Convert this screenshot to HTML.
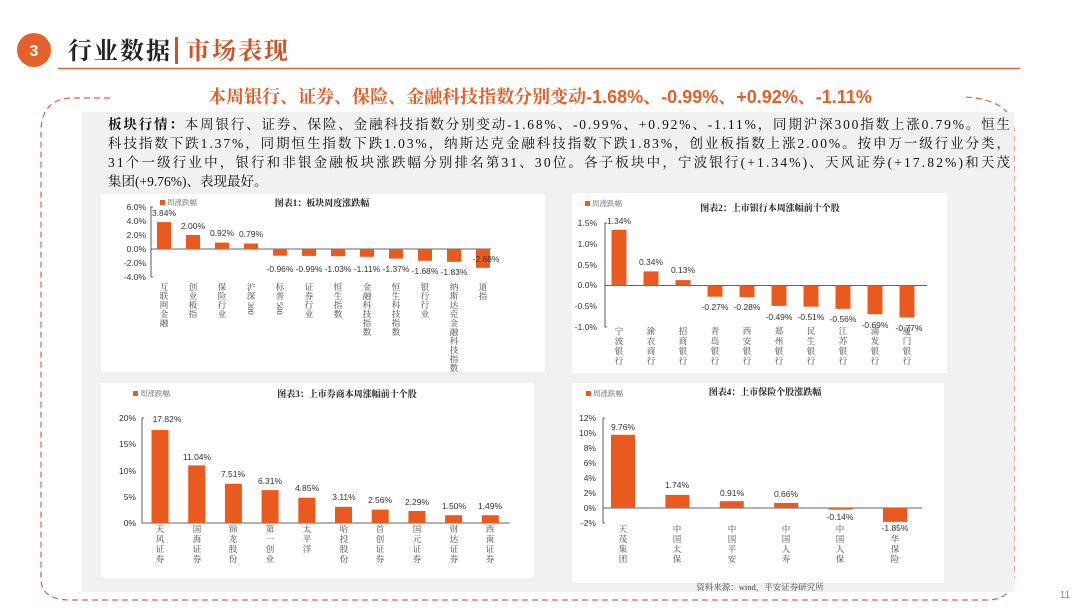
<!DOCTYPE html>
<html><head><meta charset="utf-8"><style>
html,body{margin:0;padding:0;background:#fff;}
svg{display:block;font-family:"Liberation Sans","Noto Sans CJK SC",sans-serif;}
.s{font-family:"Liberation Serif","Noto Serif CJK SC",serif;}
.t{font-size:8.5px;fill:#333;}
.c{font-size:8.5px;fill:#444;font-family:"Liberation Serif","Noto Serif CJK SC",serif;}
.ttl{font-size:9px;font-weight:bold;fill:#222;font-family:"Liberation Serif","Noto Serif CJK SC",serif;}
.lg{font-size:7.5px;fill:#666;font-family:"Liberation Serif","Noto Serif CJK SC",serif;}
.b{fill:#ea5a1e;}
.ax{stroke:#333;stroke-width:0.8;fill:none;}
</style></head><body>
<svg width="1080" height="608" viewBox="0 0 1080 608" xmlns="http://www.w3.org/2000/svg">
<rect width="1080" height="608" fill="#fff"/>
<!-- header -->
<circle cx="34" cy="50" r="17" fill="#e5612c"/>
<text x="34" y="56" font-size="16" font-weight="bold" fill="#fff" text-anchor="middle">3</text>
<text x="68" y="59" class="s" font-size="24" font-weight="bold" fill="#222" letter-spacing="2">行业数据</text>
<rect x="175" y="37" width="3" height="27" fill="#c9552a"/>
<text x="186" y="59" class="s" font-size="24" font-weight="bold" fill="#c9552a" letter-spacing="2">市场表现</text>
<line x1="58" y1="68.5" x2="1020" y2="68.5" stroke="#d9663a" stroke-width="1.5"/>
<!-- dashed frame -->
<path d="M110 98 L70 98 Q42 100 41 130 L41 580 Q42 600 70 600 L990 600 Q1013 598 1014 575 L1014 130 Q1012 100 965 97" fill="none" stroke="#d9663a" stroke-width="1.2" stroke-dasharray="6,4"/>
<rect x="82" y="112" width="932" height="480" fill="#f1f1f1"/>
<text x="540" y="103" text-anchor="middle" font-size="18" font-weight="bold" fill="#e0602a" class="s">本周银行、证券、保险、金融科技指数分别变动<tspan font-family="Liberation Sans">-1.68%</tspan>、<tspan font-family="Liberation Sans">-0.99%</tspan>、<tspan font-family="Liberation Sans">+0.92%</tspan>、<tspan font-family="Liberation Sans">-1.11%</tspan></text>
<g class="s" font-size="13.5" fill="#111">
<text x="108" y="129" textLength="902" lengthAdjust="spacing"><tspan font-weight="bold">板块行情：</tspan>本周银行、证券、保险、金融科技指数分别变动-1.68%、-0.99%、+0.92%、-1.11%，同期沪深300指数上涨0.79%。恒生</text>
<text x="108" y="148" textLength="902" lengthAdjust="spacing">科技指数下跌1.37%，同期恒生指数下跌1.03%，纳斯达克金融科技指数下跌1.83%，创业板指数上涨2.00%。按申万一级行业分类，</text>
<text x="108" y="167" textLength="902" lengthAdjust="spacing">31个一级行业中，银行和非银金融板块涨跌幅分别排名第31、30位。各子板块中，宁波银行(+1.34%)、天风证券(+17.82%)和天茂</text>
<text x="108" y="186">集团(+9.76%)、表现最好。</text>
</g>
<!-- panels -->
<rect x="101" y="194" width="444" height="178" fill="#fff"/>
<rect x="572" y="193" width="375" height="180" fill="#fff"/>
<rect x="101" y="383" width="433" height="195" fill="#fff"/>
<rect x="572" y="383" width="372" height="200" fill="#fff"/>

<!-- chart1 -->
<rect x="160" y="200" width="5" height="5" class="b"/><text x="167" y="205" class="lg">周涨跌幅</text>
<text x="322" y="206" class="ttl" text-anchor="middle">图表1：板块周度涨跌幅</text>
<g class="t" text-anchor="end"><text x="146" y="210">6.0%</text><text x="146" y="224">4.0%</text><text x="146" y="238">2.0%</text><text x="146" y="252">0.0%</text><text x="146" y="266">-2.0%</text><text x="146" y="280">-4.0%</text></g>
<path class="ax" d="M153 207 H151 V277 H153 M151 249 H491"/>
<g class="b">
<rect x="157" y="222.1" width="14" height="26.9"/><rect x="186" y="235" width="14" height="14"/><rect x="215" y="242.6" width="14" height="6.4"/><rect x="244" y="243.5" width="14" height="5.5"/>
<rect x="273" y="249" width="14" height="6.7"/><rect x="302" y="249" width="14" height="6.9"/><rect x="331" y="249" width="14" height="7.2"/><rect x="360" y="249" width="14" height="7.8"/><rect x="389" y="249" width="14" height="9.6"/><rect x="418" y="249" width="14" height="11.8"/><rect x="447" y="249" width="14" height="12.8"/><rect x="476" y="249" width="14" height="18.8"/>
</g>
<g class="t" text-anchor="middle">
<text x="164" y="216">3.84%</text><text x="193" y="229">2.00%</text><text x="222" y="236">0.92%</text><text x="251" y="237">0.79%</text>
<text x="280" y="272">-0.96%</text><text x="309" y="272">-0.99%</text><text x="338" y="272">-1.03%</text><text x="367" y="272">-1.11%</text><text x="396" y="272">-1.37%</text><text x="425" y="274">-1.68%</text><text x="454" y="275">-1.83%</text><text x="486" y="262">-2.68%</text>
</g>
<g class="c" text-anchor="middle">
<text x="164" y="290">互</text><text x="164" y="299">联</text><text x="164" y="308">网</text><text x="164" y="317">金</text><text x="164" y="326">融</text>
<text x="193" y="290">创</text><text x="193" y="299">业</text><text x="193" y="308">板</text><text x="193" y="317">指</text>
<text x="222" y="290">保</text><text x="222" y="299">险</text><text x="222" y="308">行</text><text x="222" y="317">业</text>
<text x="251" y="290">沪</text><text x="251" y="299">深</text><text transform="translate(248,302) rotate(90)" text-anchor="start">300</text>
<text x="280" y="290">标</text><text x="280" y="299">普</text><text transform="translate(277,302) rotate(90)" text-anchor="start">500</text>
<text x="309" y="290">证</text><text x="309" y="299">券</text><text x="309" y="308">行</text><text x="309" y="317">业</text>
<text x="338" y="290">恒</text><text x="338" y="299">生</text><text x="338" y="308">指</text><text x="338" y="317">数</text>
<text x="367" y="290">金</text><text x="367" y="299">融</text><text x="367" y="308">科</text><text x="367" y="317">技</text><text x="367" y="326">指</text><text x="367" y="335">数</text>
<text x="396" y="290">恒</text><text x="396" y="299">生</text><text x="396" y="308">科</text><text x="396" y="317">技</text><text x="396" y="326">指</text><text x="396" y="335">数</text>
<text x="425" y="290">银</text><text x="425" y="299">行</text><text x="425" y="308">行</text><text x="425" y="317">业</text>
<text x="454" y="290">纳</text><text x="454" y="299">斯</text><text x="454" y="308">达</text><text x="454" y="317">克</text><text x="454" y="326">金</text><text x="454" y="335">融</text><text x="454" y="344">科</text><text x="454" y="353">技</text><text x="454" y="362">指</text><text x="454" y="371">数</text>
<text x="483" y="290">道</text><text x="483" y="299">指</text>
</g>

<!-- chart2 -->
<rect x="585" y="201" width="5" height="5" class="b"/><text x="592" y="206" class="lg">周涨跌幅</text>
<text x="770" y="211" class="ttl" text-anchor="middle">图表2：上市银行本周涨幅前十个股</text>
<g class="t" text-anchor="end"><text x="597" y="226">1.5%</text><text x="597" y="247">1.0%</text><text x="597" y="268">0.5%</text><text x="597" y="288">0.0%</text><text x="597" y="309">-0.5%</text><text x="597" y="330">-1.0%</text></g>
<path class="ax" d="M607 223 H605 V327 H607 M605 285.5 H927"/>
<g class="b">
<rect x="611.5" y="229.8" width="15" height="55.7"/><rect x="643.5" y="271.4" width="15" height="14.1"/><rect x="675.5" y="280.1" width="15" height="5.4"/>
<rect x="707.5" y="285.5" width="15" height="11.2"/><rect x="739.5" y="285.5" width="15" height="11.6"/><rect x="771.5" y="285.5" width="15" height="20.4"/><rect x="803.5" y="285.5" width="15" height="21.2"/><rect x="835.5" y="285.5" width="15" height="23.3"/><rect x="867.5" y="285.5" width="15" height="28.7"/><rect x="899.5" y="285.5" width="15" height="32"/>
</g>
<g class="t" text-anchor="middle">
<text x="619" y="224">1.34%</text><text x="651" y="265">0.34%</text><text x="683" y="273">0.13%</text>
<text x="715" y="310">-0.27%</text><text x="747" y="310">-0.28%</text><text x="779" y="320">-0.49%</text><text x="811" y="320">-0.51%</text><text x="843" y="322">-0.56%</text><text x="875" y="328">-0.69%</text><text x="909" y="331">-0.77%</text>
</g>
<g class="c" text-anchor="middle">
<text x="619" y="334">宁</text><text x="619" y="344">波</text><text x="619" y="354">银</text><text x="619" y="364">行</text>
<text x="651" y="334">渝</text><text x="651" y="344">农</text><text x="651" y="354">商</text><text x="651" y="364">行</text>
<text x="683" y="334">招</text><text x="683" y="344">商</text><text x="683" y="354">银</text><text x="683" y="364">行</text>
<text x="715" y="334">青</text><text x="715" y="344">岛</text><text x="715" y="354">银</text><text x="715" y="364">行</text>
<text x="747" y="334">西</text><text x="747" y="344">安</text><text x="747" y="354">银</text><text x="747" y="364">行</text>
<text x="779" y="334">郑</text><text x="779" y="344">州</text><text x="779" y="354">银</text><text x="779" y="364">行</text>
<text x="811" y="334">民</text><text x="811" y="344">生</text><text x="811" y="354">银</text><text x="811" y="364">行</text>
<text x="843" y="334">江</text><text x="843" y="344">苏</text><text x="843" y="354">银</text><text x="843" y="364">行</text>
<text x="875" y="334">浦</text><text x="875" y="344">发</text><text x="875" y="354">银</text><text x="875" y="364">行</text>
<text x="907" y="334">厦</text><text x="907" y="344">门</text><text x="907" y="354">银</text><text x="907" y="364">行</text>
</g>

<!-- chart3 -->
<rect x="133" y="391" width="5" height="5" class="b"/><text x="140" y="396" class="lg">周涨跌幅</text>
<text x="347" y="397" class="ttl" text-anchor="middle">图表3：上市券商本周涨幅前十个股</text>
<g class="t" text-anchor="end"><text x="136" y="421">20%</text><text x="136" y="447">15%</text><text x="136" y="474">10%</text><text x="136" y="500">5%</text><text x="136" y="526">0%</text></g>
<path class="ax" d="M144 418 H142 V523 H510"/>
<g class="b">
<rect x="151.5" y="430" width="17" height="93"/><rect x="188.2" y="465.4" width="17" height="57.6"/><rect x="224.9" y="483.8" width="17" height="39.2"/><rect x="261.6" y="490.1" width="17" height="32.9"/><rect x="298.3" y="497.7" width="17" height="25.3"/><rect x="335" y="506.8" width="17" height="16.2"/><rect x="371.7" y="509.6" width="17" height="13.4"/><rect x="408.4" y="511" width="17" height="12"/><rect x="445.1" y="515.2" width="17" height="7.8"/><rect x="481.8" y="515.2" width="17" height="7.8"/>
</g>
<g class="t" text-anchor="middle">
<text x="167" y="422">17.82%</text><text x="197" y="460">11.04%</text><text x="233" y="477">7.51%</text><text x="270" y="484">6.31%</text><text x="307" y="491">4.85%</text><text x="344" y="500">3.11%</text><text x="380" y="503">2.56%</text><text x="417" y="505">2.29%</text><text x="454" y="509">1.50%</text><text x="490" y="509">1.49%</text>
</g>
<g class="c" text-anchor="middle">
<text x="160" y="532">天</text><text x="160" y="542">风</text><text x="160" y="552">证</text><text x="160" y="562">券</text>
<text x="197" y="532">国</text><text x="197" y="542">海</text><text x="197" y="552">证</text><text x="197" y="562">券</text>
<text x="233" y="532">锦</text><text x="233" y="542">龙</text><text x="233" y="552">股</text><text x="233" y="562">份</text>
<text x="270" y="532">第</text><text x="270" y="542">一</text><text x="270" y="552">创</text><text x="270" y="562">业</text>
<text x="307" y="532">太</text><text x="307" y="542">平</text><text x="307" y="552">洋</text>
<text x="344" y="532">哈</text><text x="344" y="542">投</text><text x="344" y="552">股</text><text x="344" y="562">份</text>
<text x="380" y="532">首</text><text x="380" y="542">创</text><text x="380" y="552">证</text><text x="380" y="562">券</text>
<text x="417" y="532">国</text><text x="417" y="542">元</text><text x="417" y="552">证</text><text x="417" y="562">券</text>
<text x="454" y="532">财</text><text x="454" y="542">达</text><text x="454" y="552">证</text><text x="454" y="562">券</text>
<text x="490" y="532">西</text><text x="490" y="542">南</text><text x="490" y="552">证</text><text x="490" y="562">券</text>
</g>

<!-- chart4 -->
<rect x="586" y="391" width="5" height="5" class="b"/><text x="593" y="396" class="lg">周涨跌幅</text>
<text x="765" y="395" class="ttl" text-anchor="middle">图表4：上市保险个股涨跌幅</text>
<g class="t" text-anchor="end"><text x="596" y="421">12%</text><text x="596" y="436">10%</text><text x="596" y="451">8%</text><text x="596" y="466">6%</text><text x="596" y="481">4%</text><text x="596" y="496">2%</text><text x="596" y="511">0%</text><text x="596" y="526">-2%</text></g>
<path class="ax" d="M605 418 H603 V523 H605 M603 508 H922"/>
<g class="b">
<rect x="611" y="434.8" width="24" height="73.2"/><rect x="665.4" y="494.9" width="24" height="13.1"/><rect x="719.8" y="501.2" width="24" height="6.8"/><rect x="774.2" y="503" width="24" height="5"/><rect x="828.6" y="508" width="24" height="1.6"/><rect x="883" y="508" width="24" height="13.9"/>
</g>
<g class="t" text-anchor="middle">
<text x="623" y="430">9.76%</text><text x="677" y="488">1.74%</text><text x="732" y="496">0.91%</text><text x="786" y="497">0.66%</text><text x="840" y="520">-0.14%</text><text x="895" y="531">-1.85%</text>
</g>
<g class="c" text-anchor="middle">
<text x="623" y="532">天</text><text x="623" y="542">茂</text><text x="623" y="552">集</text><text x="623" y="562">团</text>
<text x="677" y="532">中</text><text x="677" y="542">国</text><text x="677" y="552">太</text><text x="677" y="562">保</text>
<text x="732" y="532">中</text><text x="732" y="542">国</text><text x="732" y="552">平</text><text x="732" y="562">安</text>
<text x="786" y="532">中</text><text x="786" y="542">国</text><text x="786" y="552">人</text><text x="786" y="562">寿</text>
<text x="840" y="532">中</text><text x="840" y="542">国</text><text x="840" y="552">人</text><text x="840" y="562">保</text>
<text x="895" y="542">华</text><text x="895" y="552">保</text><text x="895" y="562">险</text>
</g>
<text x="760" y="590" class="c" text-anchor="middle" font-size="8.5">资料来源：wind，平安证券研究所</text>
<text x="1065" y="598" font-size="10" fill="#888" text-anchor="middle">11</text>
</svg>
</body></html>
